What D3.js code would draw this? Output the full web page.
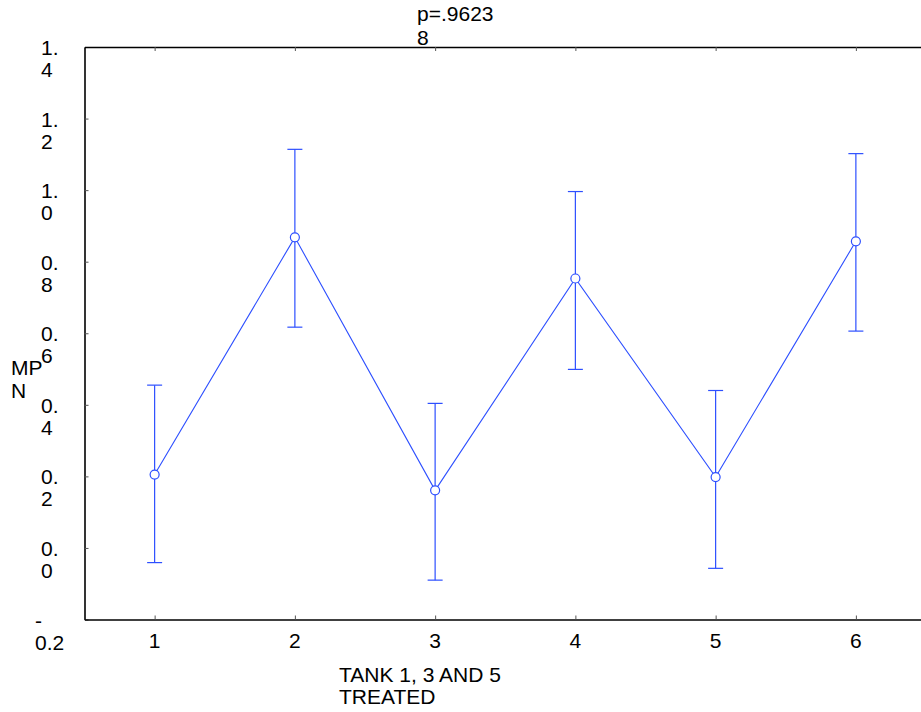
<!DOCTYPE html>
<html>
<head>
<meta charset="utf-8">
<script src="https://cdn.jsdelivr.net/npm/d3@7"></script>
<style>
  html, body { margin: 0; padding: 0; background: #fff; }
  svg { display: block; }
  text { font-family: "Liberation Sans", Arial, sans-serif; font-size: 21px; fill: #000; }
</style>
</head>
<body>
<script>
// ---- data ----
const categories = [1, 2, 3, 4, 5, 6];
const means      = [0.205, 0.868, 0.161, 0.753, 0.198, 0.857];
const upper      = [0.455, 1.114, 0.404, 0.996, 0.440, 1.102];
const lower      = [-0.041, 0.617, -0.090, 0.499, -0.057, 0.606];
const yTickValues = [-0.2, 0.0, 0.2, 0.4, 0.6, 0.8, 1.0, 1.2, 1.4];
const yTickLabels = [["-", "0.2"], ["0.", "0"], ["0.", "2"], ["0.", "4"], ["0.", "6"], ["0.", "8"], ["1.", "0"], ["1.", "2"], ["1.", "4"]];
const xTickLabels = ["1", "2", "3", "4", "5", "6"];
const titleLines = ["p=.9623", "8"];
const xTitleLines = ["TANK 1, 3 AND 5", "TREATED"];
const yTitleLines = ["MP", "N"];

// ---- layout ----
const W = 921, H = 712;
const mLeft = 84.5, mRight = 926, mTop = 47, mBottom = 619.5;
const blue = "#2d4fff";

const svg = d3.select("body").append("svg").attr("width", W).attr("height", H);

const x = d3.scaleLinear().domain([0.5, 6.5]).range([mLeft, mRight]);
const y = d3.scaleLinear().domain([-0.2, 1.4]).range([mBottom, mTop]);

function addText(g, px, py, str, anchor) {
  g.append("text")
    .attr("x", px).attr("y", py)
    .attr("text-anchor", anchor || "start")
    .text(str);
}

// axes (ticks inward, no labels)
const axisStyle = sel => {
  sel.selectAll("path.domain").attr("stroke", "#000").attr("stroke-width", 1.6);
  sel.selectAll(".tick line").attr("stroke", "#555").attr("stroke-width", 1);
};
svg.append("g").attr("transform", `translate(${mLeft},0)`)
  .call(d3.axisLeft(y).tickValues(yTickValues).tickSizeInner(-4).tickSizeOuter(0).tickFormat(""))
  .call(axisStyle);
svg.append("g").attr("transform", `translate(0,${mBottom})`)
  .call(d3.axisBottom(x).tickValues(categories).tickSizeInner(-4).tickSizeOuter(0).tickFormat(""))
  .call(axisStyle);
svg.append("g").attr("transform", `translate(0,${mTop})`)
  .call(d3.axisTop(x).tickValues(categories).tickSizeInner(-4).tickSizeOuter(0).tickFormat(""))
  .call(axisStyle);

// y tick labels (wrapped, two lines)
const yl = svg.append("g");
yTickValues.forEach((v, i) => {
  const lines = yTickLabels[i];
  const px = v < 0 ? 35 : 41;
  lines.forEach((ln, j) => addText(yl, px, y(v) + 8 + j * 22, ln, "start"));
});

// x tick labels
const xl = svg.append("g");
categories.forEach((c, i) => addText(xl, x(c), 648, xTickLabels[i], "middle"));

// titles
const tg = svg.append("g");
titleLines.forEach((ln, j) => addText(tg, 417, 21 + j * 24, ln, "start"));
xTitleLines.forEach((ln, j) => addText(tg, 339, 682 + j * 22, ln, "start"));
yTitleLines.forEach((ln, j) => addText(tg, 11, 375 + j * 23, ln, "start"));

// data
const data = categories.map((c, i) => ({ c, m: means[i], lo: lower[i], hi: upper[i] }));
const plot = svg.append("g");

plot.append("path")
  .datum(data)
  .attr("fill", "none")
  .attr("stroke", blue)
  .attr("stroke-width", 1.1)
  .attr("d", d3.line().x(d => x(d.c)).y(d => y(d.m)));

const eb = plot.selectAll("g.eb").data(data).enter().append("g").attr("class", "eb")
  .attr("stroke", blue).attr("stroke-width", 1.2);
eb.append("line").attr("x1", d => x(d.c)).attr("x2", d => x(d.c)).attr("y1", d => y(d.lo)).attr("y2", d => y(d.hi));
eb.append("line").attr("x1", d => x(d.c) - 7.5).attr("x2", d => x(d.c) + 7.5).attr("y1", d => y(d.hi)).attr("y2", d => y(d.hi));
eb.append("line").attr("x1", d => x(d.c) - 7.5).attr("x2", d => x(d.c) + 7.5).attr("y1", d => y(d.lo)).attr("y2", d => y(d.lo));

plot.selectAll("circle").data(data).enter().append("circle")
  .attr("cx", d => x(d.c)).attr("cy", d => y(d.m)).attr("r", 4.5)
  .attr("fill", "#fff").attr("stroke", blue).attr("stroke-width", 1.2);
</script>
</body>
</html>
